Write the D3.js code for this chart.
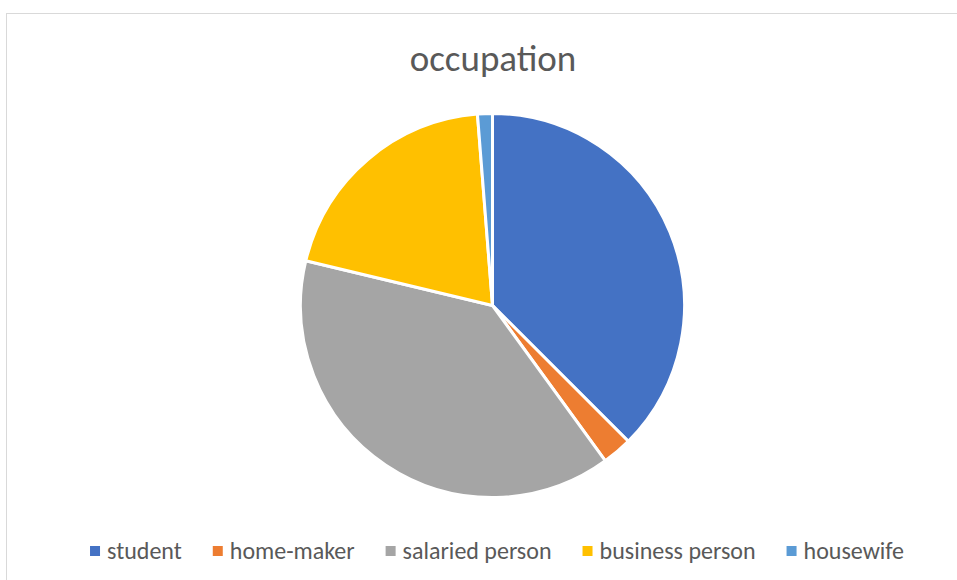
<!DOCTYPE html>
<html lang="en">
<head>
  <meta charset="UTF-8">
  <title>occupation</title>
  <script src="https://cdn.jsdelivr.net/npm/d3@7"></script>
  <style>
    body { margin: 0; background: #fff; }
    text { font-family: Calibri, Carlito, Lato, sans-serif; fill: #595959; }
  </style>
</head>
<body>
  <script>

  // chart data
  var categories = ["student", "home-maker", "salaried person", "business person", "housewife"];
  var counts = [30, 2, 31, 16, 1];
  var colours = ["#4472C4", "#ED7D31", "#A5A5A5", "#FFC000", "#5B9BD5"];

  var w = 957;
  var h = 580;
  var cx = 492.5, cy = 305.5, radius = 192;

  var svg = d3.select("body").append("svg")
    .attr("width", w)
    .attr("height", h);

  // chart area frame (runs off the right and bottom edge)
  svg.append("rect")
    .attr("x", 6.5).attr("y", 13.5)
    .attr("width", 1000).attr("height", 1000)
    .attr("fill", "none")
    .attr("stroke", "#d9d9d9");

  // title
  svg.append("text")
    .attr("x", 493)
    .attr("y", 71)
    .attr("text-anchor", "middle")
    .style("font-size", "37px")
    .text("occupation");

  var colour = d3.scaleOrdinal().domain(categories).range(colours);

  var pie = d3.pie().sort(null).value(function(d, i) { return counts[i]; });
  var arc = d3.arc().innerRadius(0).outerRadius(radius);

  svg.append("g")
    .attr("transform", "translate(" + cx + "," + cy + ")")
    .selectAll("path")
    .data(pie(categories))
    .enter()
    .append("path")
    .attr("d", arc)
    .attr("fill", function(d) { return colour(d.data); })
    .attr("stroke", "#fff")
    .attr("stroke-width", 3)
    .attr("stroke-linejoin", "round");

  // legend, laid out from measured text widths
  var legend = svg.append("g");
  var items = legend.selectAll("g")
    .data(categories)
    .enter()
    .append("g");

  items.append("rect")
    .attr("y", 546)
    .attr("width", 10).attr("height", 10)
    .attr("fill", function(d) { return colour(d); });

  items.append("text")
    .attr("x", 17)
    .attr("y", 559)
    .style("font-size", "24px")
    .text(function(d) { return d; });

  var x = 0;
  items.each(function() {
    var tw = d3.select(this).select("text").node().getComputedTextLength();
    d3.select(this).attr("transform", "translate(" + x + ",0)");
    x += 17 + tw + 31;
  });
  var total = x - 31;
  legend.attr("transform", "translate(" + (497 - total / 2) + ",0)");

  </script>
</body>
</html>
